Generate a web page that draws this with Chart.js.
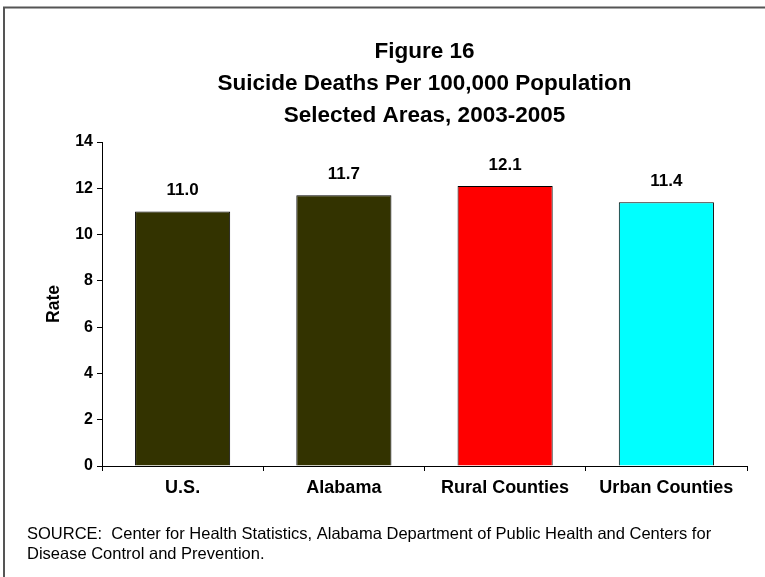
<!DOCTYPE html>
<html>
<head>
<meta charset="utf-8">
<script src="https://cdn.jsdelivr.net/npm/chart.js@4/dist/chart.umd.min.js"></script>
<style>
  html, body { margin: 0; padding: 0; background: #fff; }
  #wrap { width: 765px; height: 577px; position: relative; }
</style>
</head>
<body>
<div id="wrap"><canvas id="c" width="765" height="577"></canvas></div>
<script>
// Suicide death rates per 100,000 population, 2003-2005
const areas = ['U.S.', 'Alabama', 'Rural Counties', 'Urban Counties'];
const rates = [11.0, 11.7, 12.1, 11.4];
const barColors = ['#333300', '#333300', '#FF0000', '#00FFFF'];
const titleLines = ['Figure 16', 'Suicide Deaths Per 100,000 Population', 'Selected Areas, 2003-2005'];
const sourceLines = [
  'SOURCE:  Center for Health Statistics, Alabama Department of Public Health and Centers for',
  'Disease Control and Prevention.'
];
const yAxisTitle = 'Rate';

const FONT = '"Liberation Sans", Arial, sans-serif';

// Frame, heading, value labels and source note
const decorations = {
  id: 'decorations',
  beforeDraw(chart) {
    const ctx = chart.ctx;
    ctx.save();
    ctx.strokeStyle = '#555';
    ctx.lineWidth = 2;
    ctx.beginPath();
    ctx.moveTo(4, 577);
    ctx.lineTo(4, 7.5);
    ctx.lineTo(765, 7.5);
    ctx.stroke();
    ctx.restore();
  },
  afterDraw(chart) {
    const ctx = chart.ctx;
    const area = chart.chartArea;
    const cx = (area.left + area.right) / 2;
    ctx.save();
    ctx.fillStyle = '#000';
    ctx.textAlign = 'center';
    ctx.textBaseline = 'alphabetic';
    ctx.font = 'bold 22.5px ' + FONT;
    titleLines.forEach((t, i) => ctx.fillText(t, cx, 58 + i * 32));

    // value above each bar
    ctx.font = 'bold 17px ' + FONT;
    const meta = chart.getDatasetMeta(0);
    meta.data.forEach((bar, i) => {
      ctx.fillText(rates[i].toFixed(1), bar.x, bar.y - 16);
    });

    ctx.font = '16.5px ' + FONT;
    ctx.textAlign = 'left';
    ctx.textBaseline = 'alphabetic';
    sourceLines.forEach((t, i) => ctx.fillText(t, 27, 539 + i * 20));
    ctx.restore();
  }
};

new Chart(document.getElementById('c'), {
  type: 'bar',
  data: {
    labels: areas,
    datasets: [{
      data: rates,
      backgroundColor: barColors,
      borderColor: '#000',
      borderWidth: 1,
      barPercentage: 1,
      categoryPercentage: 0.59
    }]
  },
  options: {
    responsive: false,
    animation: false,
    devicePixelRatio: 1,
    layout: { padding: { top: 142, left: 36, right: 18, bottom: 71 } },
    plugins: {
      legend: { display: false },
      tooltip: { enabled: false },
      title: { display: false }
    },
    scales: {
      x: {
        afterFit(scale) { scale.height = 40; },
        grid: {
          display: true,
          offset: true,
          drawOnChartArea: false,
          tickLength: 5,
          color: '#000'
        },
        border: { color: '#000', width: 1 },
        ticks: {
          color: '#000',
          padding: 6,
          font: { family: FONT, size: 18, weight: 'bold' }
        }
      },
      y: {
        min: 0,
        max: 14,
        afterFit(scale) { scale.width = 66; },
        grid: {
          display: true,
          drawOnChartArea: false,
          tickLength: 5,
          color: '#000'
        },
        border: { color: '#000', width: 1 },
        ticks: {
          stepSize: 2,
          color: '#000',
          padding: 4,
          font: { family: FONT, size: 16, weight: 'bold' }
        },
        title: {
          display: true,
          text: yAxisTitle,
          color: '#000',
          padding: { top: 8, bottom: 0 },
          font: { family: FONT, size: 17.5, weight: 'bold' }
        }
      }
    }
  },
  plugins: [decorations]
});
</script>
</body>
</html>
